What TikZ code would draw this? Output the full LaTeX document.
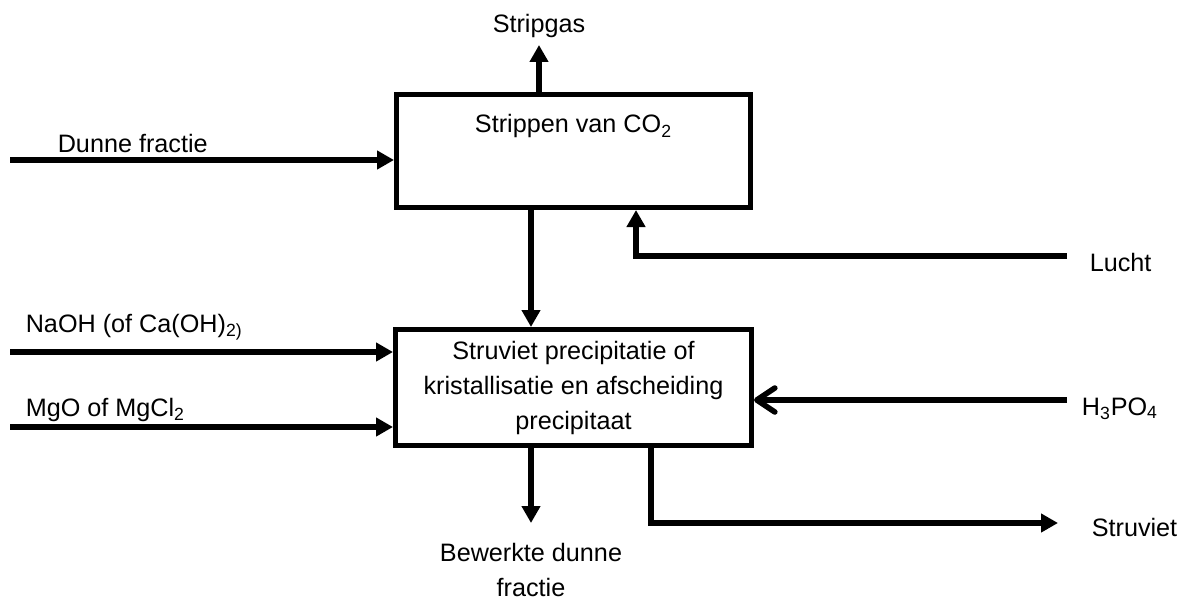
\documentclass[tikz,border=0pt]{standalone}
\usepackage{fontspec}
\setmainfont{Liberation Sans}
\usetikzlibrary{arrows.meta, positioning}

\begin{document}
\begin{tikzpicture}[x=0.5pt, y=-0.5pt, line width=2.8pt,
    >={Triangle[length=8.5pt, width=9pt]},
    font=\fontsize{12.6}{17.5}\selectfont,
    procbox/.style={draw, line width=2.7pt, inner sep=0pt, align=center,
      minimum width=176.8pt, minimum height=56.3pt},
    feed/.style={->},
    barb/.style={-{Straight Barb[length=9pt, width=12pt, round]}},
    tag/.style={inner sep=0pt, anchor=base west}]
    \useasboundingbox (0,0) rectangle (1186,599);

    \node[procbox, label={[anchor=base, yshift=-20.5pt, inner sep=0pt]north:Strippen van CO\textsubscript{2}}] (strip) at (573.5,151) {};
    \node[procbox, minimum width=177.8pt, minimum height=57.8pt] (struv) [below=58.5pt of strip]
        {Struviet precipitatie of\\ kristallisatie en afscheiding\\ precipitaat};

    \coordinate (dunne) at (10,160);
    \coordinate (gas) at (539,45);
    \coordinate (mid) at (531,0);
    \coordinate (lucht) at (1067,256);
    \coordinate (airup) at (636,0);
    \coordinate (naoh) at (10,352);
    \coordinate (mgo) at (10,427);
    \coordinate (acid) at (1067,400);
    \coordinate (effl) at (531,523);
    \coordinate (down) at (651,0);
    \coordinate (solid) at (1058,523);

    \draw[feed] (dunne) -- (dunne -| strip.west);
    \draw[feed] (gas |- strip.north) -- (gas);
    \draw[feed] (strip.south -| mid) -- (struv.north -| mid);
    \draw[feed] (lucht) -| (strip.south -| airup);
    \draw[feed] (naoh) -- (naoh -| struv.west);
    \draw[feed] (mgo) -- (mgo -| struv.west);
    \draw[barb] (acid) -- (acid -| struv.east);
    \draw[feed] (struv.south -| effl) -- (effl);
    \draw[feed] (struv.south -| down) |- (solid);

    \node[tag] (dunnetxt) at (55,152) {Dunne fractie};
    \node[inner sep=0pt, anchor=base] (gastxt) at (539,33) {Stripgas};
    \node[tag] (luchttxt) at (1087,271) {Lucht};
    \node[tag] (naohtxt) at (23,332) {NaOH (of Ca(OH)\textsubscript{2)}};
    \node[tag] (mgotxt) at (23,416) {MgO of MgCl\textsubscript{2}};
    \node[tag] (acidtxt) at (1079,415) {H\textsubscript{3}PO\textsubscript{4}};
    \node[inner sep=0pt, anchor=north, align=center] (effltxt) at (531,540) {Bewerkte dunne\\ fractie};
    \node[tag] (solidtxt) at (1089,536) {Struviet};
\end{tikzpicture}
\end{document}
